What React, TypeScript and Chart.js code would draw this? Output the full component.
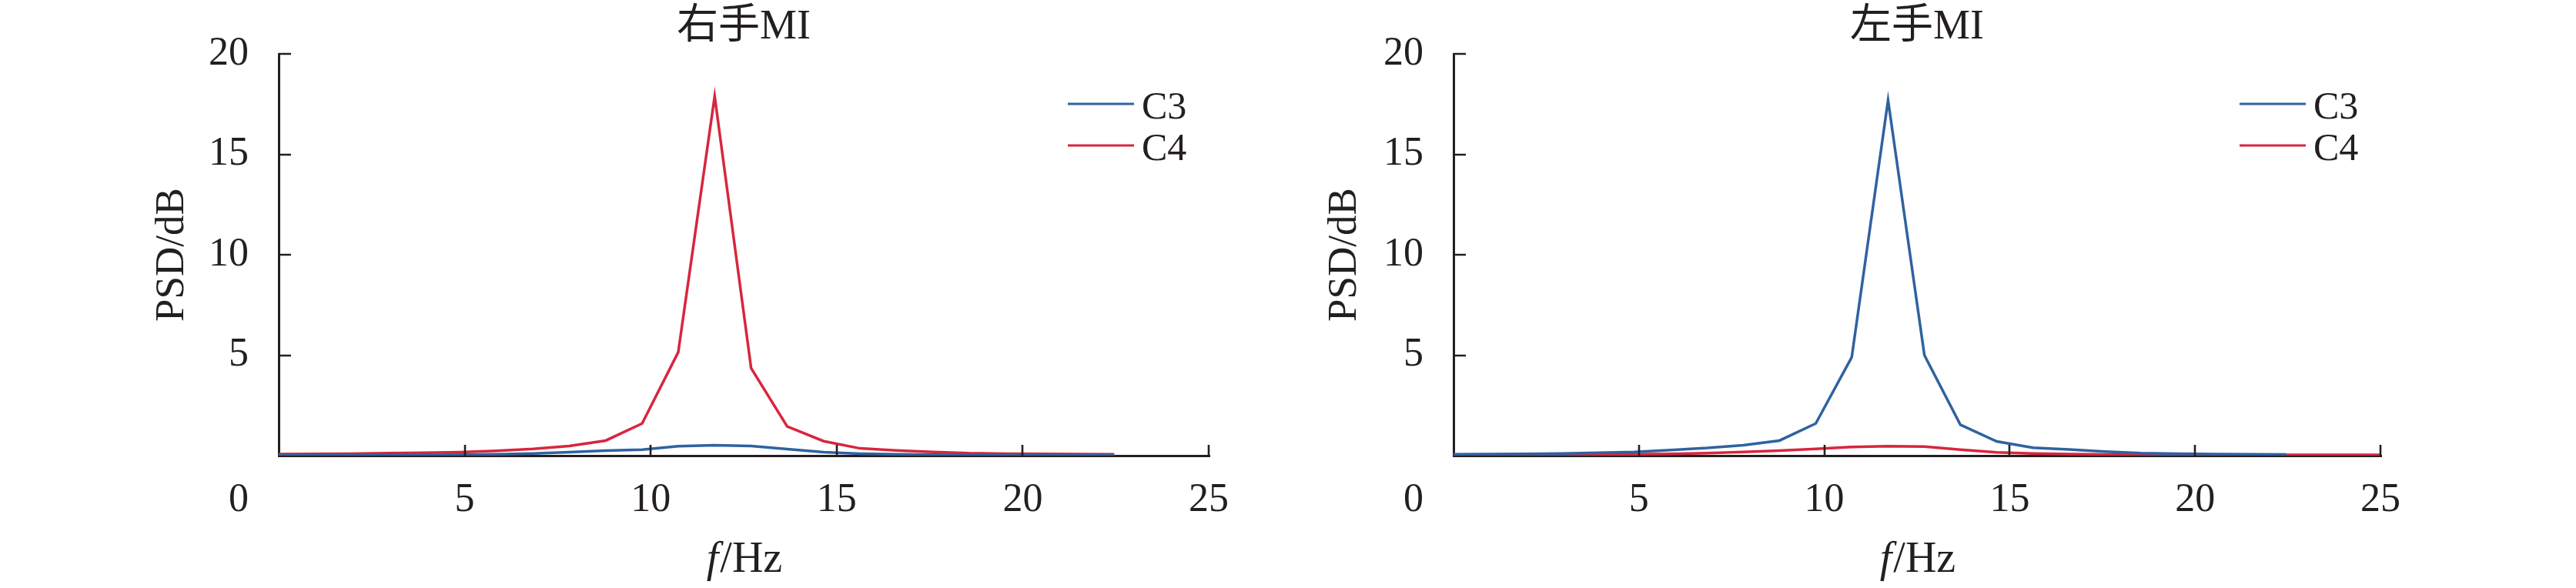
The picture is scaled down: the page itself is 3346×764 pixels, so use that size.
import React, { useEffect, useRef } from "react";
import { Chart, registerables } from "chart.js";

Chart.register(...registerables);

// ---------------- data ----------------
const FREQ_HZ = [
  0, 0.98, 1.95, 2.93, 3.91, 4.88, 5.86, 6.84, 7.81, 8.79, 9.77, 10.74, 11.72,
  12.7, 13.67, 14.65, 15.63, 16.6, 17.58, 18.55, 19.53, 20.51, 21.48, 22.46,
  23.44, 24.41, 25.39,
];

const SERIES_NAMES = ["C3", "C4"];
const PANEL_TITLES = ["右手MI", "左手MI"];

// 右手MI
const RIGHT_HAND_C3 = [
  0.03, 0.03, 0.03, 0.04, 0.04, 0.05, 0.07, 0.11, 0.17, 0.25, 0.3, 0.47, 0.52,
  0.48, 0.33, 0.17, 0.1, 0.07, 0.05, 0.04, 0.03, 0.03, 0.03, 0.03,
];
const RIGHT_HAND_C4 = [
  0.08, 0.09, 0.1, 0.12, 0.14, 0.17, 0.24, 0.34, 0.48, 0.75, 1.6, 5.15, 17.9,
  4.35, 1.45, 0.72, 0.36, 0.26, 0.18, 0.12, 0.1, 0.09, 0.08, 0.07,
];

// 左手MI
const LEFT_HAND_C3 = [
  0.07, 0.08, 0.09, 0.11, 0.14, 0.18, 0.28, 0.38, 0.52, 0.75, 1.6, 4.9, 17.7,
  5.0, 1.54, 0.71, 0.39, 0.31, 0.2, 0.12, 0.1, 0.08, 0.07, 0.06,
];
const LEFT_HAND_C4 = [
  0.03, 0.03, 0.04, 0.04, 0.05, 0.07, 0.09, 0.12, 0.18, 0.25, 0.34, 0.43, 0.47,
  0.45, 0.3, 0.16, 0.11, 0.08, 0.06, 0.05, 0.05, 0.04, 0.04, 0.04, 0.04, 0.04,
  0.04,
];

const X_MIN = 0;
const X_MAX = 25;
const X_STEP = 5;
const Y_MIN = 0;
const Y_MAX = 20;
const Y_STEP = 5;

const X_TITLE_ITALIC = "f";
const X_TITLE_REST = "/Hz";
const Y_TITLE = "PSD/dB";
const ORIGIN_LABEL = "0";

// ---------------- style ----------------
const FONT = "'Liberation Serif', 'Times New Roman', 'Noto Sans CJK SC', serif";
const AXIS = "#231f20";
const BLUE = "#2f62a0";
const RED = "#d7263d";
const COLORS = [BLUE, RED];

const TICK_FONT = 52;
const TITLE_FONT = 54;
const X_TITLE_FONT = 56;
const Y_TITLE_FONT = 53;
const LEGEND_FONT = 50;
const X_TICK_PAD = 27;
const Y_TICK_PAD = 39;
const Y_SCALE_W = 200;
const LINE_W = 3.5;

type Panel = {
  left: number;
  width: number;
  plotLeft: number;
  plotRight: number;
  yTitleCenter: number;
  title: string;
  c3: number[];
  c4: number[];
};

const CANVAS_H = 764;
const PLOT_TOP = 69;
const PLOT_BOTTOM = 592;

const PANELS: Panel[] = [
  {
    left: 0,
    width: 1673,
    plotLeft: 362,
    plotRight: 1570,
    yTitleCenter: 224,
    title: PANEL_TITLES[0],
    c3: RIGHT_HAND_C3,
    c4: RIGHT_HAND_C4,
  },
  {
    left: 1673,
    width: 1673,
    plotLeft: 215,
    plotRight: 1419,
    yTitleCenter: 74,
    title: PANEL_TITLES[1],
    c3: LEFT_HAND_C3,
    c4: LEFT_HAND_C4,
  },
];

function toPoints(values: number[]) {
  return values.map((v, i) => ({ x: FREQ_HZ[i], y: v }));
}

function makeDecorPlugin(title: string) {
  return {
    id: "decor",
    afterDraw(chart: any) {
      const { ctx, chartArea, scales } = chart;
      const xs = scales.x;
      const ys = scales.y;
      ctx.save();
      // inward tick marks
      ctx.strokeStyle = AXIS;
      ctx.lineWidth = 2.6;
      ctx.beginPath();
      for (const t of xs.ticks) {
        if (t.value === X_MIN) continue;
        const px = Math.round(xs.getPixelForValue(t.value));
        ctx.moveTo(px, chartArea.bottom);
        ctx.lineTo(px, chartArea.bottom - 14);
      }
      for (const t of ys.ticks) {
        if (t.value === Y_MIN) continue;
        const py = Math.round(ys.getPixelForValue(t.value));
        ctx.moveTo(chartArea.left, py);
        ctx.lineTo(chartArea.left + 16, py);
      }
      ctx.stroke();

      ctx.fillStyle = AXIS;
      const cx = (chartArea.left + chartArea.right) / 2;

      // panel title
      ctx.font = `${TITLE_FONT}px ${FONT}`;
      ctx.textAlign = "center";
      ctx.textBaseline = "alphabetic";
      ctx.fillText(title, cx, 50);

      // shared origin label "0"
      ctx.font = `${TICK_FONT}px ${FONT}`;
      ctx.textAlign = "right";
      ctx.textBaseline = "middle";
      ctx.fillText(
        ORIGIN_LABEL,
        chartArea.left - Y_TICK_PAD,
        chartArea.bottom + X_TICK_PAD + (TICK_FONT * 1.2) / 2
      );

      // x title: italic f + /Hz
      const italicFont = `italic ${X_TITLE_FONT}px ${FONT}`;
      const normalFont = `${X_TITLE_FONT}px ${FONT}`;
      ctx.font = italicFont;
      const w1 = ctx.measureText(X_TITLE_ITALIC).width;
      ctx.font = normalFont;
      const w2 = ctx.measureText(X_TITLE_REST).width;
      const startX = cx - (w1 + w2) / 2;
      ctx.textAlign = "left";
      ctx.textBaseline = "alphabetic";
      ctx.font = italicFont;
      ctx.fillText(X_TITLE_ITALIC, startX, chartArea.bottom + 151);
      ctx.font = normalFont;
      ctx.fillText(X_TITLE_REST, startX + w1 + 2, chartArea.bottom + 151);

      // legend
      const lx1 = chartArea.right - 183;
      const lx2 = chartArea.right - 97;
      const rows = [135, 189];
      chart.data.datasets.forEach((ds: any, i: number) => {
        ctx.strokeStyle = ds.borderColor;
        ctx.lineWidth = 3;
        ctx.beginPath();
        ctx.moveTo(lx1, rows[i]);
        ctx.lineTo(lx2, rows[i]);
        ctx.stroke();
        ctx.fillStyle = AXIS;
        ctx.font = `${LEGEND_FONT}px ${FONT}`;
        ctx.textAlign = "left";
        ctx.textBaseline = "alphabetic";
        ctx.fillText(ds.label, chartArea.right - 87, rows[i] + 18.5);
      });
      ctx.restore();
    },
  };
}

function PanelChart({ panel }: { panel: Panel }) {
  const ref = useRef<HTMLCanvasElement | null>(null);

  useEffect(() => {
    if (!ref.current) return;
    const yScaleLeft = panel.plotLeft - Y_SCALE_W;
    const yTitleLine = Y_TITLE_FONT * 1.2;
    const yTitlePad = panel.yTitleCenter - yScaleLeft - yTitleLine / 2;
    const chart = new Chart(ref.current, {
      type: "line",
      data: {
        datasets: [
          {
            label: SERIES_NAMES[0],
            data: toPoints(panel.c3),
            borderColor: COLORS[0],
            borderWidth: LINE_W,
            pointRadius: 0,
            tension: 0,
            fill: false,
          },
          {
            label: SERIES_NAMES[1],
            data: toPoints(panel.c4),
            borderColor: COLORS[1],
            borderWidth: LINE_W,
            pointRadius: 0,
            tension: 0,
            fill: false,
          },
        ],
      },
      options: {
        animation: false,
        responsive: false,
        maintainAspectRatio: false,
        devicePixelRatio: 1,
        layout: {
          padding: {
            left: yScaleLeft,
            right: panel.width - panel.plotRight,
            top: PLOT_TOP,
            bottom: 0,
          },
        },
        plugins: {
          legend: { display: false },
          title: { display: false },
          tooltip: { enabled: false },
        },
        scales: {
          x: {
            type: "linear",
            min: X_MIN,
            max: X_MAX,
            afterFit: (s: any) => {
              s.height = CANVAS_H - PLOT_BOTTOM;
            },
            ticks: {
              stepSize: X_STEP,
              padding: X_TICK_PAD,
              color: AXIS,
              font: { family: FONT, size: TICK_FONT },
              maxRotation: 0,
              autoSkip: false,
              callback: (v: any) => (Number(v) === X_MIN ? "" : String(v)),
            },
            grid: {
              display: true,
              drawOnChartArea: false,
              drawTicks: false,
              lineWidth: 3,
              color: AXIS,
            },
            border: { display: true, color: AXIS, width: 3 },
          },
          y: {
            type: "linear",
            min: Y_MIN,
            max: Y_MAX,
            afterFit: (s: any) => {
              s.width = Y_SCALE_W;
            },
            ticks: {
              stepSize: Y_STEP,
              padding: Y_TICK_PAD,
              color: AXIS,
              font: { family: FONT, size: TICK_FONT },
              autoSkip: false,
              callback: (v: any) => (Number(v) === Y_MIN ? "" : String(v)),
            },
            grid: {
              display: true,
              drawOnChartArea: false,
              drawTicks: false,
              lineWidth: 3,
              color: AXIS,
            },
            border: { display: true, color: AXIS, width: 3 },
            title: {
              display: true,
              text: Y_TITLE,
              color: AXIS,
              font: { family: FONT, size: Y_TITLE_FONT },
              padding: { top: yTitlePad, bottom: 0 },
            },
          },
        },
      },
      plugins: [makeDecorPlugin(panel.title)],
    } as any);
    return () => chart.destroy();
  }, [panel]);

  return (
    <canvas
      ref={ref}
      width={panel.width}
      height={CANVAS_H}
      style={{
        position: "absolute",
        left: panel.left,
        top: 0,
        width: panel.width,
        height: CANVAS_H,
      }}
    />
  );
}

export default function App() {
  return (
    <div
      style={{
        position: "absolute",
        left: 0,
        top: 0,
        width: 3346,
        height: CANVAS_H,
        background: "#ffffff",
        overflow: "hidden",
      }}
    >
      {PANELS.map((p, i) => (
        <PanelChart key={i} panel={p} />
      ))}
    </div>
  );
}
